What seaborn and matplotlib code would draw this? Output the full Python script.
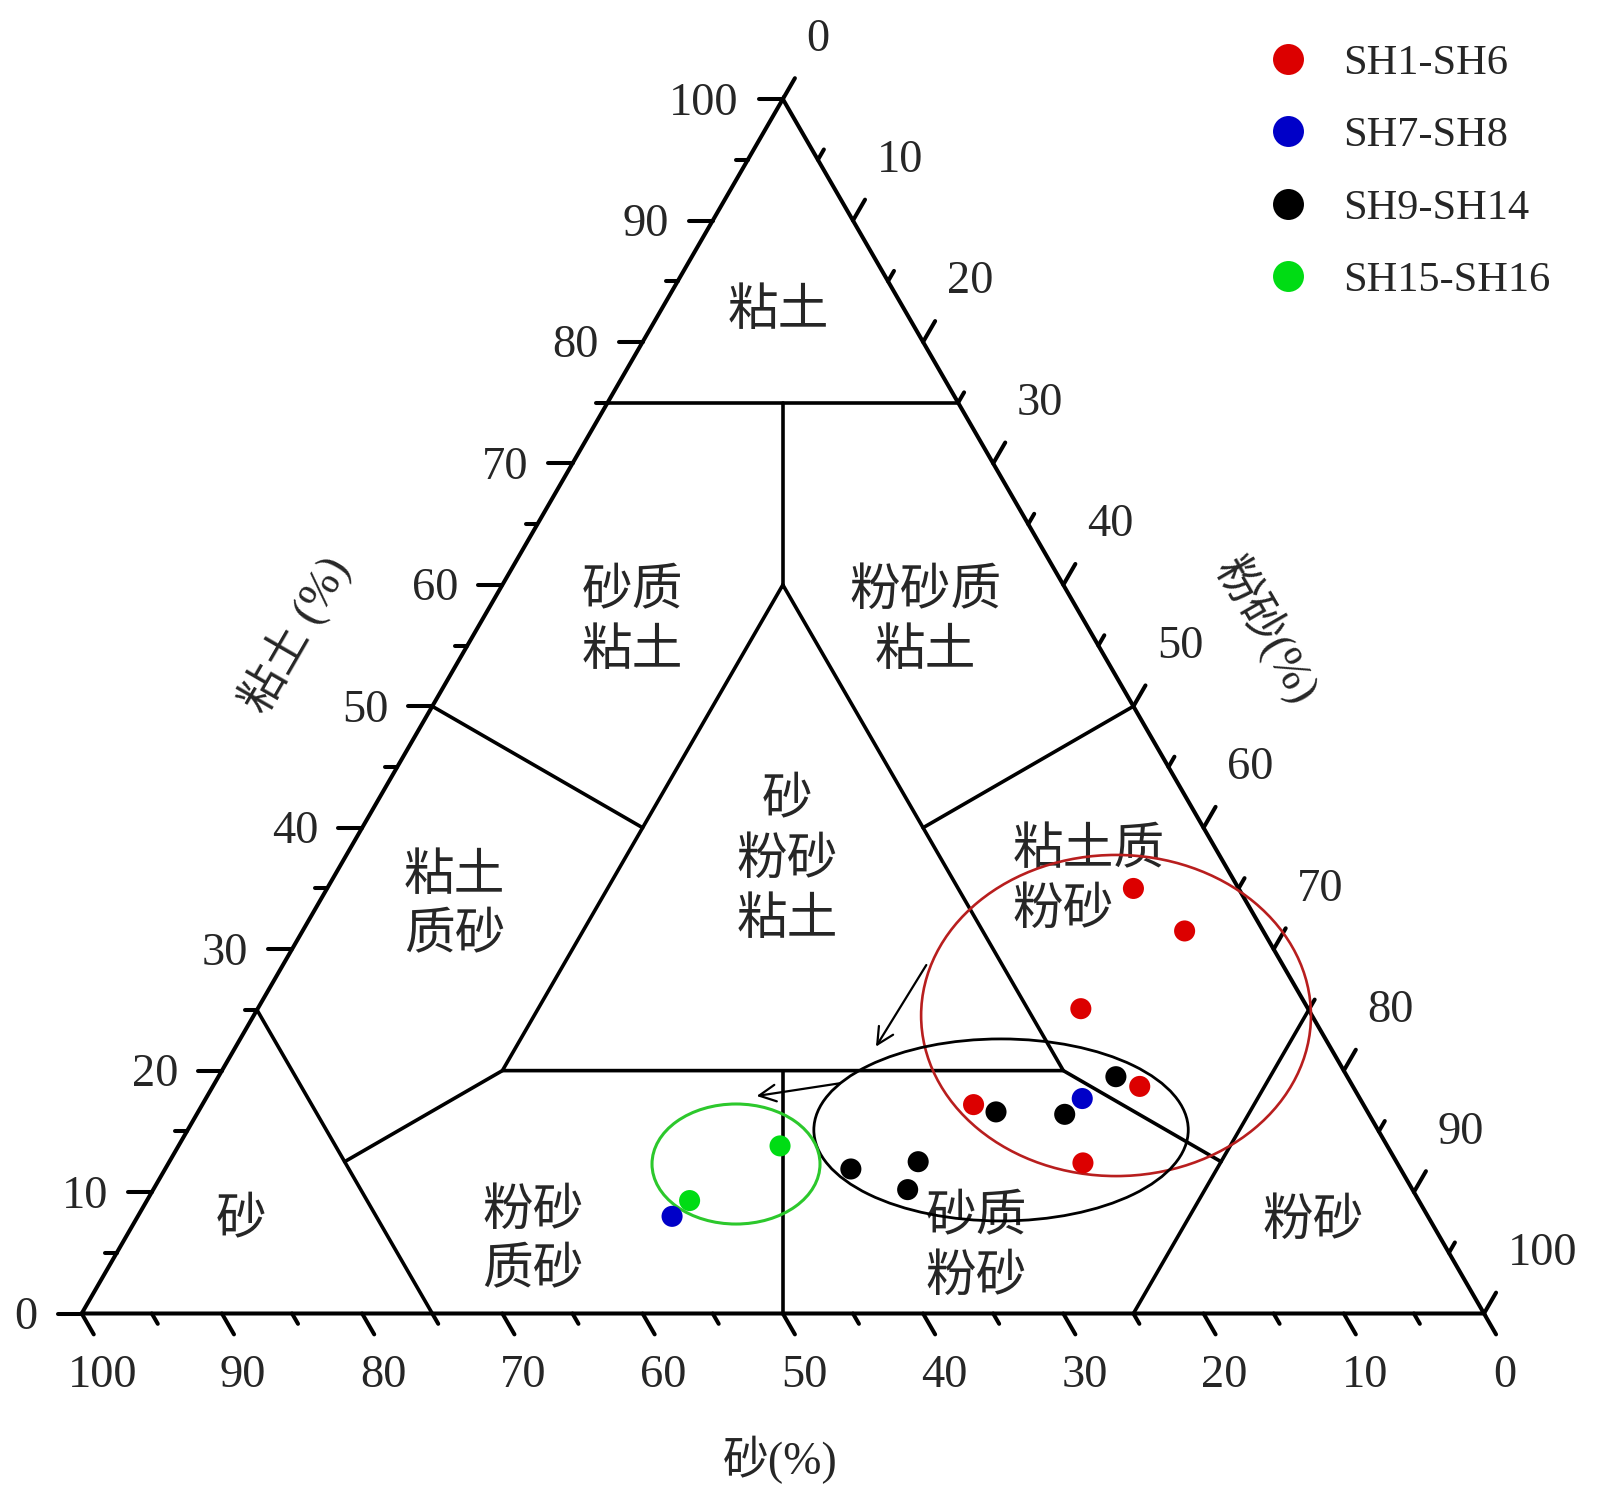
import numpy as np
import pandas as pd
import matplotlib
matplotlib.use("Agg")
import matplotlib.pyplot as plt
from matplotlib.patches import Ellipse
import seaborn as sns

H = np.sqrt(3) / 2

# skład próbek (%): glina / pył, piasek = reszta
clay_sh1_6 = [35.0, 31.5, 25.1, 17.2, 18.7, 12.4]
silt_sh1_6 = [57.5, 62.9, 58.7, 55.0, 66.1, 65.2]
clay_sh7_8 = [17.7, 8.0]
silt_sh7_8 = [62.5, 38.1]
clay_sh9_14 = [16.6, 16.4, 19.5, 12.5, 11.9, 10.2]
silt_sh9_14 = [56.9, 61.9, 64.0, 53.4, 48.9, 53.8]
clay_sh15_16 = [13.8, 9.3]
silt_sh15_16 = [42.9, 38.7]

groups = ["SH1-SH6", "SH7-SH8", "SH9-SH14", "SH15-SH16"]
group_colors = ["#DC0000", "#0000C8", "#000000", "#00DC14"]

tick_values = list(range(0, 101, 5))
label_values = list(range(0, 101, 10))

# granice klas Sheparda, punkty (clay, silt)
boundaries = [
    [(75, 0), (75, 25)],
    [(75, 12.5), (60, 20)],
    [(60, 20), (20, 20), (20, 60), (60, 20)],
    [(50, 0), (40, 20)],
    [(50, 50), (40, 40)],
    [(25, 0), (0, 25)],
    [(25, 75), (0, 75)],
    [(12.5, 12.5), (20, 20)],
    [(12.5, 75), (20, 60)],
    [(20, 40), (0, 50)],
]

# nazwy pól (x, y w układzie kartezjańskim trójkąta)
region_names = ["粘土", "砂质\n粘土", "粉砂质\n粘土", "砂\n粉砂\n粘土", "粘土\n质砂",
                "粘土质\n粉砂", "砂", "粉砂\n质砂", "砂质\n粉砂", "粉砂"]
region_xy = [(49.7, 71.35), (39.3, 49.25), (60.2, 49.25), (50.3, 32.2), (26.6, 29.0),
             (66.4, 30.8), (11.35, 6.5), (32.2, 5.1), (63.8, 4.6), (87.8, 6.5)]


def tern(clay, silt):
    clay = np.asarray(clay, dtype=float)
    silt = np.asarray(silt, dtype=float)
    return silt + clay * 0.5, clay * H


sns.set_style("white")
plt.rcParams['font.family'] = ['Liberation Serif', 'Noto Sans CJK SC']

PX = 14.023  # piksele na jednostkę
fig = plt.figure(figsize=(16, 15.01), dpi=100)
ax = fig.add_axes([0, 0, 1, 1])
ax.set_xlim(-81.7 / PX, (1600 - 81.7) / PX)
ax.set_ylim((1313.5 - 1501) / PX, 1313.5 / PX)
ax.axis('off')

# obrys trójkąta
ax.plot([0, 100, 50, 0], [0, 0, 100 * H, 0], color='black', lw=2.9,
        solid_joinstyle='miter', zorder=2)

for seg in boundaries:
    c, s = zip(*seg)
    x, y = tern(c, s)
    ax.plot(x, y, color='black', lw=2.6, zorder=2)

# znaczniki osi
for v in tick_values:
    L = 1.72 if v % 10 == 0 else 0.85
    x0, y0 = 100 - v, 0
    ax.plot([x0, x0 + 0.5 * L], [y0, y0 - H * L], color='black', lw=2.9, zorder=2)
    x0, y0 = v / 2, v * H
    ax.plot([x0, x0 - L], [y0, y0], color='black', lw=2.9, zorder=2)
    x0, y0 = 50 + v / 2, (100 - v) * H
    ax.plot([x0, x0 + 0.5 * L], [y0, y0 + H * L], color='black', lw=2.9, zorder=2)

dy = -0.3
for v in label_values:
    ax.text(100 - v + 1.5, -4.14 + dy, str(v), fontsize=33.5, ha='center', va='center')
    ax.text(v / 2 - 3.14, v * H + dy, str(v), fontsize=33.5, ha='right', va='center')
    ax.text(50 + v / 2 + 1.69, (100 - v) * H + 4.56 + dy, str(v), fontsize=33.5,
            ha='left', va='center')

ax.text(49.8, -10.45, "砂(%)", fontsize=33, ha='center', va='center')
ax.text(15.22, 48.4, "粘土 (%)", fontsize=33, ha='center', va='center', rotation=60)
ax.text(84.5, 48.7, "粉砂(%)", fontsize=33, ha='center', va='center', rotation=-60)

for name, (x, y) in zip(region_names, region_xy):
    if name == "粘土质\n粉砂":
        ax.text(x, y, name, fontsize=36.5, ha='left', va='center', linespacing=1.36,
                multialignment='left')
    else:
        ax.text(x, y, name, fontsize=36.5, ha='center', va='center', linespacing=1.36)

# elipsy i strzałki
ax.add_patch(Ellipse((73.76, 21.25), 27.8, 22.9, fill=False, ec='#B81E1E', lw=1.9, zorder=3))
ax.add_patch(Ellipse((65.56, 13.09), 26.7, 12.98, fill=False, ec='black', lw=2.0, zorder=3))
ax.add_patch(Ellipse((46.66, 10.66), 11.98, 8.56, fill=False, ec='#2CC82C', lw=2.2, zorder=3))

arrow_kw = dict(arrowstyle='->', lw=1.6, color='black', mutation_scale=30,
                shrinkA=0, shrinkB=0)
ax.annotate('', xy=(56.64, 19.03), xytext=(60.23, 24.85), arrowprops=arrow_kw, zorder=3)
ax.annotate('', xy=(48.13, 15.51), xytext=(54.08, 16.42), arrowprops=arrow_kw, zorder=3)

# punkty
frames = []
for g, cl, si in zip(groups, [clay_sh1_6, clay_sh7_8, clay_sh9_14, clay_sh15_16],
                     [silt_sh1_6, silt_sh7_8, silt_sh9_14, silt_sh15_16]):
    x, y = tern(cl, si)
    frames.append(pd.DataFrame({'X': x, 'Y': y, 'group': g}))
df = pd.concat(frames, ignore_index=True)

sns.scatterplot(data=df, x='X', y='Y', hue='group', hue_order=groups,
                palette=group_colors, s=230, linewidth=0, ax=ax, zorder=5)
handles, labels = ax.get_legend_handles_labels()
ax.get_legend().remove()
ax.legend(handles, labels, loc='upper left', bbox_to_anchor=(1267 / 1600, 1 - 44 / 1501),
          frameon=False, fontsize=30.5, markerscale=1.47, handlelength=1.0,
          handletextpad=0.8, labelspacing=0.8, borderpad=0, borderaxespad=0)

fig.savefig("out.png", dpi=100)
